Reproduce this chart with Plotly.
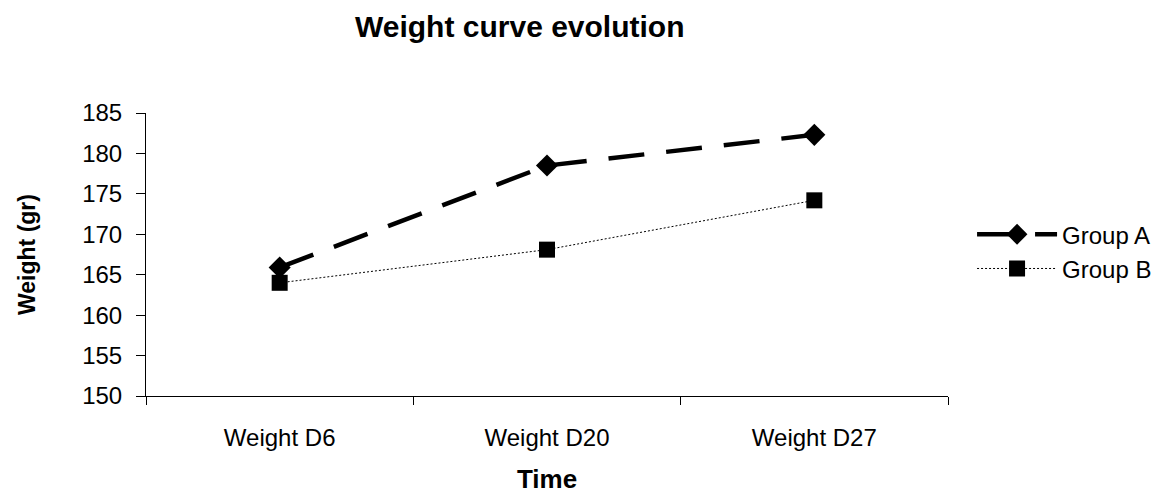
import plotly.graph_objects as go

# Measurement days and mean body weights (g) per group
days = ["Weight D6", "Weight D20", "Weight D27"]
group_a = [165.9, 178.5, 182.3]
group_b = [164.0, 168.1, 174.2]

FONT = "Liberation Sans, Arial, sans-serif"

fig = go.Figure()
fig.add_trace(go.Scatter(
    x=days, y=group_a, name="Group A", mode="lines+markers",
    line=dict(color="black", width=4.5, dash="36px,22px"),
    marker=dict(symbol="diamond", size=17, color="black"),
))
fig.add_trace(go.Scatter(
    x=days, y=group_b, name="Group B", mode="lines+markers",
    line=dict(color="black", width=1, dash="2px,2px"),
    marker=dict(symbol="square", size=16, color="black"),
))

fig.update_layout(
    width=1168, height=497,
    margin=dict(l=146, r=220, t=113, b=101, autoexpand=False),
    paper_bgcolor="white", plot_bgcolor="white",
    font=dict(family=FONT, size=24, color="black"),
    title=dict(text="<b>Weight curve evolution</b>", x=0.445, xanchor="center",
               y=0.946, yanchor="middle", font=dict(size=30, family=FONT)),
    legend=dict(x=1.03, y=0.51, xanchor="left", yanchor="middle",
                font=dict(size=24), itemwidth=80,
                bgcolor="rgba(0,0,0,0)"),
    showlegend=True,
)
fig.update_xaxes(
    type="category", tickson="boundaries", range=[-0.5, 2.5],
    showline=True, linecolor="black", linewidth=1,
    ticks="outside", ticklen=8, tickcolor="black",
    ticklabelstandoff=20, automargin=False,
    showgrid=False, zeroline=False,
    title=dict(text="<b>Time</b>", font=dict(size=26), standoff=20),
)
fig.update_yaxes(
    range=[150, 185], dtick=5, tick0=150,
    showline=True, linecolor="black", linewidth=1,
    ticks="outside", ticklen=9, tickcolor="black",
    ticklabelstandoff=9, automargin=False,
    showgrid=False, zeroline=False,
    title=dict(text="<b>Weight (gr)</b>", font=dict(size=23), standoff=40),
)

fig.write_html("out.html")
